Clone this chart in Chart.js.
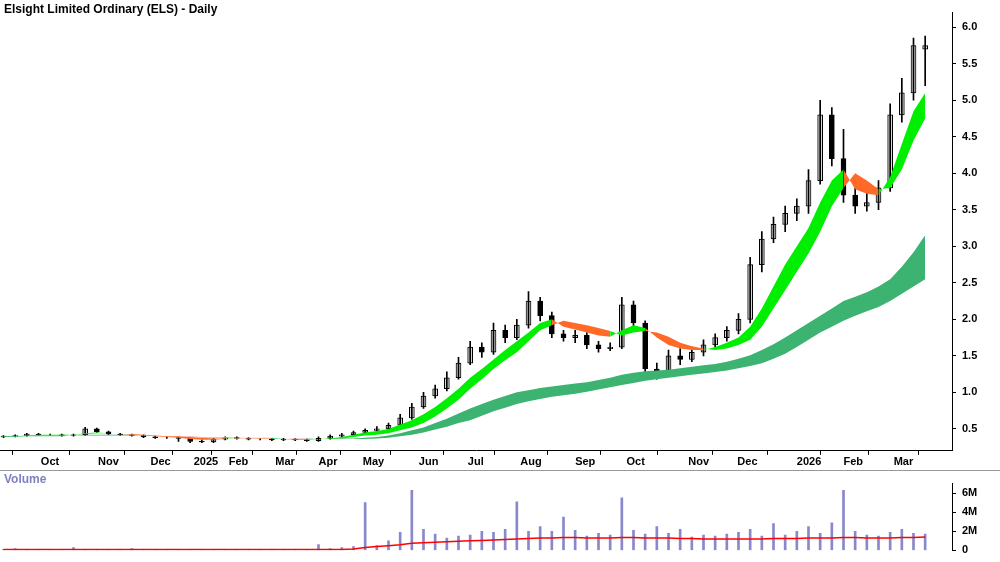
<!DOCTYPE html>
<html><head><meta charset="utf-8">
<script src="https://cdn.jsdelivr.net/npm/chart.js@4.4.1/dist/chart.umd.min.js"></script>
<style>
body{margin:0;background:#fff;font-family:"Liberation Sans",Arial,sans-serif;}
#p{position:absolute;left:0;top:0;width:1000px;height:470px;}
#v{position:absolute;left:0;top:470px;width:1000px;height:92px;border-top:1px solid #999;}
.t{position:absolute;font-weight:bold;font-size:12px;}
</style></head><body>
<div id="p"><canvas id="cp"></canvas></div>
<div id="v"><canvas id="cv"></canvas></div>
<div class="t" style="left:4px;top:2px;color:#000">Elsight Limited Ordinary (ELS) - Daily</div>
<div class="t" style="left:4px;top:472px;color:#8080c0">Volume</div>
<script>
const monthLabels=["Oct","Nov","Dec","2025","Feb","Mar","Apr","May","Jun","Jul","Aug","Sep","Oct","Nov","Dec","2026","Feb","Mar"];
const monthPos=[3.2,8.1,12.6,16.3,19.3,23.3,27,30.8,35.6,39.8,44.3,49,53.4,58.7,62.9,68,72,76.3];
const priceTicks=[0.5,1.0,1.5,2.0,2.5,3.0,3.5,4.0,4.5,5.0,5.5,6.0];
const volTicks=[0,2,4,6];
const open=[0.39,0.40,0.41,0.43,0.42,0.42,0.41,0.42,0.50,0.46,0.43,0.42,0.41,0.39,0.38,0.38,0.37,0.33,0.32,0.36,0.38,0.37,0.36,0.36,0.35,0.36,0.35,
0.34,0.37,0.40,0.42,0.45,0.48,0.50,0.55,0.65,0.80,0.95,1.05,1.20,1.40,1.62,1.55,1.85,1.75,1.92,2.25,2.05,1.80,1.75,1.78,1.65,1.60,1.62,2.20,1.95,1.32,1.25,1.50,1.45,1.55,1.65,1.75,1.85,2.00,2.75,3.10,3.30,3.45,3.55,3.90,4.80,4.20,3.70,3.55,3.60,3.80,4.80,5.10,5.70];
const close=[0.40,0.41,0.43,0.42,0.42,0.41,0.42,0.50,0.46,0.43,0.42,0.41,0.39,0.38,0.38,0.37,0.33,0.32,0.36,0.38,0.37,0.36,0.36,0.35,0.36,0.35,0.34,
0.37,0.40,0.42,0.45,0.48,0.50,0.55,0.65,0.80,0.95,1.05,1.20,1.40,1.62,1.55,1.85,1.75,1.92,2.25,2.05,1.80,1.75,1.78,1.65,1.60,1.62,2.20,1.95,1.32,1.25,1.50,1.45,1.55,1.65,1.75,1.85,2.00,2.75,3.10,3.30,3.45,3.55,3.90,4.80,4.20,3.70,3.55,3.60,3.80,4.80,5.10,5.75,5.75];
const high=[0.41,0.42,0.44,0.44,0.43,0.43,0.43,0.52,0.51,0.47,0.44,0.43,0.42,0.40,0.39,0.39,0.38,0.35,0.37,0.39,0.39,0.38,0.37,0.37,0.37,0.37,0.36,
0.39,0.42,0.44,0.47,0.50,0.53,0.58,0.70,0.85,1.00,1.10,1.28,1.48,1.70,1.68,1.95,1.92,2.00,2.38,2.30,2.10,1.85,1.85,1.82,1.70,1.68,2.30,2.25,1.98,1.40,1.58,1.60,1.62,1.72,1.80,1.90,2.08,2.85,3.20,3.40,3.55,3.65,4.05,5.00,4.90,4.60,3.85,3.75,3.90,4.95,5.30,5.85,5.88];
const low=[0.38,0.39,0.40,0.41,0.41,0.40,0.40,0.41,0.45,0.42,0.41,0.40,0.38,0.37,0.37,0.33,0.31,0.31,0.31,0.35,0.36,0.35,0.35,0.34,0.34,0.34,0.33,
0.33,0.36,0.39,0.41,0.44,0.47,0.49,0.54,0.63,0.78,0.92,1.02,1.18,1.38,1.48,1.52,1.68,1.72,1.88,1.98,1.75,1.70,1.68,1.60,1.55,1.57,1.60,1.90,1.25,1.18,1.22,1.38,1.42,1.50,1.60,1.70,1.80,1.95,2.65,3.05,3.20,3.35,3.45,3.85,4.10,3.60,3.45,3.48,3.50,3.75,4.70,5.00,5.20];
const fastA=[0.40,0.40,0.41,0.42,0.42,0.42,0.42,0.44,0.45,0.44,0.43,0.42,0.41,0.40,0.39,0.38,0.36,0.35,0.35,0.36,0.37,0.37,0.36,0.36,0.36,0.35,0.35,
0.36,0.37,0.39,0.42,0.45,0.47,0.50,0.56,0.62,0.70,0.80,0.92,1.05,1.20,1.32,1.45,1.58,1.70,1.82,1.95,2.00,1.90,1.86,1.82,1.78,1.76,1.85,1.92,1.88,1.75,1.65,1.60,1.58,1.58,1.62,1.68,1.75,1.90,2.15,2.45,2.75,3.00,3.25,3.60,3.90,4.05,3.78,3.72,3.70,3.95,4.40,4.85,5.10];
const fastB=[0.39,0.40,0.40,0.41,0.41,0.41,0.42,0.43,0.44,0.44,0.43,0.43,0.42,0.41,0.40,0.40,0.39,0.38,0.37,0.37,0.37,0.37,0.37,0.37,0.36,0.36,0.36,
0.36,0.36,0.37,0.39,0.41,0.42,0.44,0.48,0.52,0.58,0.67,0.78,0.90,1.05,1.18,1.32,1.44,1.55,1.70,1.85,1.92,1.98,1.95,1.92,1.88,1.84,1.78,1.82,1.84,1.82,1.76,1.68,1.63,1.60,1.58,1.60,1.65,1.72,1.90,2.15,2.40,2.65,2.90,3.20,3.55,3.80,4.00,3.90,3.78,3.80,4.05,4.45,4.75];
const slowC=[0.40,0.40,0.40,0.41,0.41,0.41,0.41,0.42,0.42,0.42,0.42,0.42,0.41,0.41,0.40,0.40,0.39,0.38,0.38,0.38,0.37,0.37,0.37,0.37,0.37,0.36,0.36,
0.36,0.36,0.37,0.37,0.38,0.39,0.41,0.44,0.48,0.52,0.58,0.64,0.71,0.78,0.84,0.90,0.95,1.00,1.03,1.06,1.08,1.10,1.12,1.14,1.17,1.20,1.24,1.27,1.29,1.30,1.31,1.33,1.35,1.37,1.39,1.42,1.46,1.51,1.58,1.66,1.75,1.85,1.95,2.05,2.15,2.25,2.31,2.37,2.45,2.55,2.72,2.92,3.15];
const slowD=[0.39,0.39,0.40,0.40,0.40,0.40,0.41,0.41,0.41,0.41,0.41,0.41,0.41,0.41,0.40,0.40,0.40,0.39,0.39,0.39,0.38,0.38,0.38,0.38,0.37,0.37,0.37,
0.36,0.36,0.36,0.36,0.36,0.37,0.38,0.40,0.42,0.45,0.49,0.53,0.58,0.62,0.68,0.74,0.79,0.84,0.88,0.91,0.94,0.96,0.98,1.01,1.04,1.07,1.10,1.13,1.16,1.18,1.20,1.22,1.24,1.26,1.28,1.30,1.33,1.36,1.40,1.46,1.53,1.62,1.72,1.82,1.90,1.98,2.05,2.11,2.17,2.25,2.35,2.45,2.55];
const volume=[0.1,0.2,0.1,0.1,0.05,0.1,0.3,0.1,0.1,0.1,0.1,0.2,0.05,0.1,0.05,0.05,0.05,0.05,0.05,0.05,0.1,0.05,0.1,0.05,0.05,0.1,0.05,
0.6,0.2,0.3,0.4,5.0,0.5,1.0,1.9,6.3,2.2,1.7,1.3,1.5,1.6,2.0,1.9,2.2,5.1,2.0,2.5,2.0,3.5,2.1,1.5,1.8,1.6,5.5,2.1,1.7,2.5,1.8,2.2,1.4,1.6,1.5,1.7,1.9,2.2,1.5,2.8,1.6,2.0,2.5,1.8,2.9,6.3,2.0,1.6,1.5,1.9,2.2,1.8,1.7];
const volMA=[0.1,0.1,0.1,0.1,0.1,0.1,0.1,0.1,0.1,0.1,0.1,0.1,0.1,0.1,0.1,0.1,0.1,0.1,0.1,0.1,0.1,0.1,0.1,0.1,0.1,0.1,0.1,
0.1,0.1,0.1,0.15,0.3,0.4,0.5,0.6,0.75,0.8,0.85,0.9,0.95,1.0,1.05,1.1,1.15,1.2,1.25,1.3,1.3,1.35,1.35,1.3,1.3,1.3,1.35,1.35,1.3,1.3,1.3,1.25,1.25,1.2,1.2,1.2,1.2,1.2,1.2,1.25,1.25,1.25,1.3,1.3,1.3,1.35,1.35,1.3,1.3,1.3,1.35,1.35,1.4];

const pts=a=>a.map((v,i)=>({x:i,y:v}));
const rng=(a,b)=>a.map((v,i)=>({x:i,y:[v,b[i]]}));
const font={family:'"Liberation Sans",Arial',size:11,weight:'bold'};
const xScale=(show)=>({type:'linear',min:-0.3,max:81.3,offset:false,display:show,
  afterBuildTicks:s=>{s.ticks=monthPos.map(v=>({value:v}));},
  ticks:{autoSkip:false,maxRotation:0,align:'start',color:'#000',font,padding:1,
    callback:(v,i)=>monthLabels[i]},
  grid:{drawOnChartArea:false,drawTicks:true,tickLength:4,color:'#000'},border:{color:'#000'}});
const yScale=(min,max,ticks,fmt)=>({position:'right',min,max,
  afterBuildTicks:s=>{s.ticks=ticks.map(v=>({value:v}));},
  afterFit:s=>{s.width=48;},
  ticks:{color:'#000',font,padding:6,callback:fmt},
  grid:{drawOnChartArea:false,tickLength:4,color:'#000'},border:{color:'#000'}});
const GREEN='#00ee00',ORANGE='#ff6a28',DG='#3cb371';
const line=(d,extra)=>Object.assign({type:'line',data:pts(d),pointRadius:0,borderWidth:0,borderColor:'rgba(0,0,0,0)'},extra);

new Chart(document.getElementById('cp'),{
  type:'bar',
  data:{datasets:[
    line(slowC,{}),
    line(slowD,{fill:'-1',backgroundColor:DG,segment:{backgroundColor:c=>slowC[c.p1DataIndex]>=slowD[c.p1DataIndex]?DG:'#f4a890'}}),
    line(fastA,{}),
    line(fastB,{fill:'-1',backgroundColor:GREEN,segment:{backgroundColor:c=>fastA[c.p1DataIndex]>=fastB[c.p1DataIndex]?GREEN:ORANGE}}),
    {type:'bar',data:rng(low,high),backgroundColor:'#000',barThickness:1,grouped:false},
    {type:'bar',data:rng(open,close),grouped:false,barThickness:5,borderWidth:1,borderColor:'#000',borderSkipped:false,
      backgroundColor:close.map((c,i)=>c>=open[i]?'#d8d8d8':'#000')}
  ]},
  options:{animation:false,responsive:true,maintainAspectRatio:false,
    layout:{padding:{top:0,left:0,right:0,bottom:0}},
    plugins:{legend:{display:false},tooltip:{enabled:false}},
    scales:{x:xScale(true),y:yScale(0.2,6.2,priceTicks,v=>v.toFixed(1))}}
});
new Chart(document.getElementById('cv'),{
  type:'bar',
  data:{datasets:[
    {type:'line',data:pts(volMA),pointRadius:0,borderWidth:1.5,borderColor:'#ff0000'},
    {type:'bar',data:pts(volume),backgroundColor:'#8888cc',barThickness:2,grouped:false}
  ]},
  options:{animation:false,responsive:true,maintainAspectRatio:false,
    layout:{padding:{top:0,bottom:4}},
    plugins:{legend:{display:false},tooltip:{enabled:false}},
    scales:{x:xScale(false),y:yScale(0,7,volTicks,v=>v===0?'0':v+'M')}}
});
</script></body></html>
